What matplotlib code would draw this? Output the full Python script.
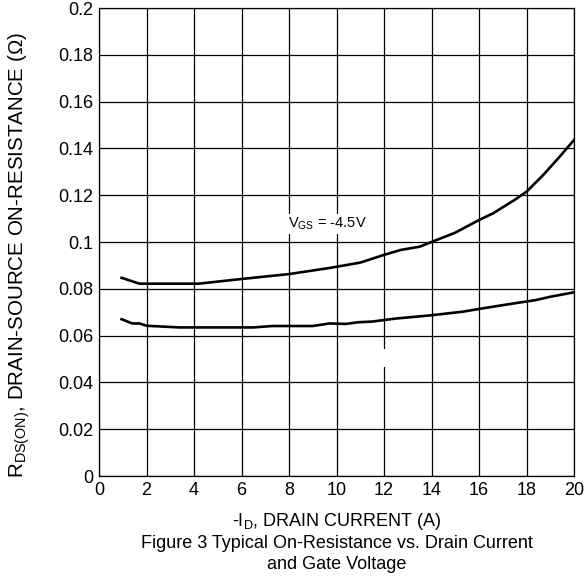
import numpy as np
import matplotlib.pyplot as plt

plt.rcParams['font.family'] = ['Liberation Sans', 'DejaVu Sans']
plt.rcParams['mathtext.fontset'] = 'custom'
plt.rcParams['mathtext.rm'] = 'Liberation Sans'

# upper curve
id_a = [0.95, 1.7, 2.5, 4.2, 6.0, 8.0, 9.7, 11.0, 12.0, 12.7, 13.5, 14.0, 15.0, 16.0, 16.6, 17.5, 18.0, 18.7, 19.4, 20.0]
r_a = [0.0847, 0.0822, 0.0822, 0.0822, 0.0842, 0.0863, 0.0889, 0.0912, 0.0945, 0.0966, 0.0980, 0.1000, 0.1040, 0.1094, 0.1123, 0.1180, 0.1215, 0.1286, 0.1365, 0.1436]
# lower curve
id_b = [0.95, 1.4, 1.7, 2.0, 3.4, 6.5, 7.3, 9.0, 9.7, 10.4, 10.9, 11.5, 12.5, 13.9, 15.3, 16.0, 17.3, 18.4, 19.0, 20.0]
r_b = [0.0670, 0.0652, 0.0652, 0.0642, 0.0635, 0.0635, 0.0641, 0.0641, 0.0652, 0.0650, 0.0657, 0.0660, 0.0673, 0.0686, 0.0702, 0.0714, 0.0735, 0.0752, 0.0766, 0.0785]

xticks = np.arange(0, 21, 2)
yticks = np.arange(0, 0.201, 0.02)
ylabels = ['0', '0.02', '0.04', '0.06', '0.08', '0.1', '0.12', '0.14', '0.16', '0.18', '0.2']

fs = 13

fig = plt.figure(figsize=(5.88, 5.81), dpi=100)
ax = fig.add_axes([0.1684, 0.1807, 0.8078, 0.8055])

ax.plot(id_a, r_a, color='black', lw=1.9, zorder=3)
ax.plot(id_b, r_b, color='black', lw=1.9, zorder=3)

ax.set_xlim(0, 20)
ax.set_ylim(0, 0.2)
ax.set_xticks(xticks)
ax.set_yticks(yticks)
ax.set_yticklabels(ylabels)
ax.tick_params(length=0, labelsize=fs, pad=4)
ax.grid(True, color='black', lw=0.9)
for s in ax.spines.values():
    s.set_linewidth(0.9)

ax.text(7.95, 0.1077, r'V$_{\mathregular{GS}}$ = -4.5V', fontsize=10.5, va='center', ha='left',
        bbox=dict(facecolor='white', edgecolor='none', pad=1), zorder=2)
ax.text(12.0, 0.0505, '  ', fontsize=14, ha='center', va='center',
        bbox=dict(facecolor='white', edgecolor='none', pad=0.5), zorder=2)

ax.set_ylabel(r'R$_{\mathregular{DS(ON)}}$, DRAIN-SOURCE ON-RESISTANCE (Ω)', fontsize=14.8)
ax.yaxis.set_label_coords(-0.142, 0.473)
fig.text(0.5723, 0.103, r'-I$_{\mathregular{D}}$, DRAIN CURRENT (A)', fontsize=fs, ha='center', va='center')
fig.text(0.5723, 0.065, 'Figure 3 Typical On-Resistance vs. Drain Current', fontsize=fs, ha='center', va='center')
fig.text(0.5723, 0.028, 'and Gate Voltage', fontsize=fs, ha='center', va='center')

fig.savefig('out.png', dpi=100)
